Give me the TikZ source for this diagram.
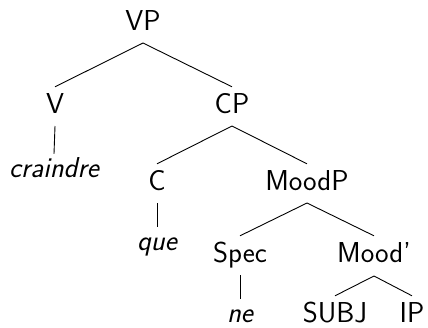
\documentclass[tikz,border=0pt]{standalone}
\begin{document}
\begin{tikzpicture}[x=1pt,y=-1pt,
  lab/.style={inner sep=0pt,anchor=base,text height=26pt,text depth=0pt,font=\sffamily\fontsize{28.8}{30}\selectfont},
  leaf/.style={inner sep=0pt,anchor=base,text height=23pt,text depth=0pt,font=\sffamily\itshape\fontsize{28.8}{30}\selectfont},
  edge/.style={line width=0.9pt}]
\useasboundingbox (0,0) rectangle (428,327);
\node[lab] (VP) at (143,30) {VP};
\node[lab] (V) at (55,113) {V};
\node[lab] (CP) at (232,113) {CP};
\node[leaf] (craindre) at (54,177) {craindre};
\node[lab] (C) at (157,190) {C};
\node[lab] (MoodP) at (307,190) {MoodP};
\node[leaf] (que) at (157,250) {que};
\node[lab] (Spec) at (240,262) {Spec};
\node[lab] (Moodbar) at (374,262) {Mood'};
\node[leaf] (ne) at (240,322) {ne};
\node[lab] (SUBJ) at (335,322) {SUBJ};
\node[lab] (IP) at (412,322) {IP};
\draw[edge] (VP.base) ++(0,13) coordinate (VPb) -- (V.north);
\draw[edge] (VPb) -- (CP.north);
\draw[edge] (V.base) ++(0,13) -- (craindre.north);
\draw[edge] (CP.base) ++(0,13) coordinate (CPb) -- (C.north);
\draw[edge] (CPb) -- (MoodP.north);
\draw[edge] (C.base) ++(0,13) -- (que.north);
\draw[edge] (MoodP.base) ++(0,13) coordinate (MoodPb) -- (Spec.north);
\draw[edge] (MoodPb) -- (Moodbar.north);
\draw[edge] (Spec.base) ++(0,13) -- (ne.north);
\draw[edge] (Moodbar.base) ++(0,14) coordinate (Moodbarb) -- (SUBJ.north);
\draw[edge] (Moodbarb) -- (IP.north);
\end{tikzpicture}
\end{document}
